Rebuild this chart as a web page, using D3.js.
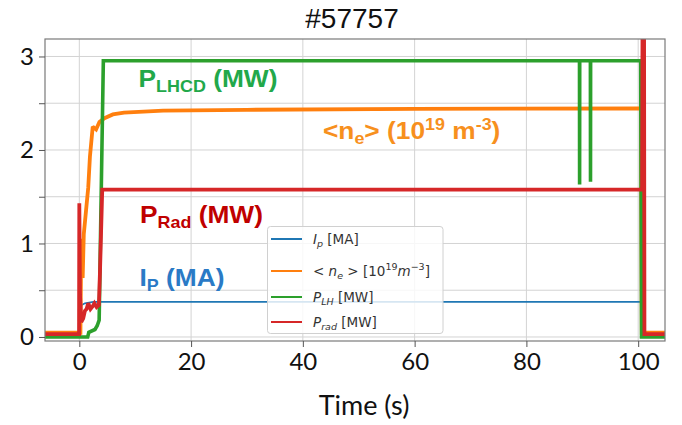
<!DOCTYPE html>
<html><head><meta charset="utf-8">
<script src="https://d3js.org/d3.v7.min.js"></script>
<style>
html,body{margin:0;padding:0;background:#fff;}
svg{display:block;}
</style></head>
<body>
<svg id="chart" width="682" height="425"></svg>
<script>
// ---- data ----
const title = "#57757";
const xTicks = [0, 20, 40, 60, 80, 100];
const yTicks = [0, 1, 2, 3];
const yMinor = [0, 0.5, 1, 1.5, 2, 2.5, 3];

const ipT = [-6.2, 0.15, 0.35, 1.0, 2.5, 100.55, 100.65, 105];
const ipV = [0, 0, 0.34, 0.36, 0.375, 0.375, 0, 0];

const neT = [-6.2, 0.2, 0.35, 0.6, 0.8, 1.2, 1.6, 1.9, 2.4, 3.0, 3.6, 4.5, 6, 8, 15, 30, 60, 100.5, 100.65, 105];
const neV = [0.045, 0.045, 1.05, 0.63, 1.1, 1.35, 1.6, 1.93, 2.25, 2.22, 2.3, 2.34, 2.38, 2.40, 2.42, 2.43, 2.44, 2.445, 0.045, 0.045];

const lhT = [-6.2, 1.5, 1.7, 2.8, 3.2, 3.55, 4.3, 89.5, 89.52, 89.54, 91.45, 91.47, 91.49, 100.45, 100.6, 105];
const lhV = [0, 0, 0.05, 0.08, 0.12, 0.18, 2.955, 2.955, 1.63, 2.955, 2.955, 1.66, 2.955, 2.955, 0, 0];

const rdT = [-6.2, -0.05, 0.0, 0.12, 0.35, 0.7, 1.0, 1.3, 1.6, 2.0, 2.4, 2.7, 3.1, 3.5, 3.7, 4.1, 100.7, 100.78, 101.05, 101.12, 105];
const rdV = [0.03, 0.03, 1.43, 0.45, 0.16, 0.2, 0.28, 0.3, 0.36, 0.3, 0.33, 0.36, 0.32, 0.34, 0.7, 1.575, 1.575, 3.4, 3.4, 0.03, 0.03];

const seriesNames = ["Ip", "ne", "PLH", "Prad"];
const seriesColors = ["#1f77b4", "#ff7f0e", "#2ca02c", "#d62728"];

// ---- layout ----
const svg = d3.select("#chart");
const L = 45, R = 665, T = 39, B = 341;
const x = d3.scaleLinear().domain([-6.14, 104.8]).range([L, R]);
const y = d3.scaleLinear().domain([-0.043, 3.187]).range([B, T]);

svg.append("rect").attr("width", 682).attr("height", 425).attr("fill", "#fff");

// title
svg.append("text").attr("x", 352).attr("y", 28).attr("text-anchor", "middle")
  .attr("font-family", "Liberation Sans, Arial, sans-serif").attr("font-size", 28)
  .attr("fill", "#111").text(title);

// grid
const grid = svg.append("g");
grid.selectAll("line.v").data(xTicks).join("line")
  .attr("x1", d => x(d)).attr("x2", d => x(d)).attr("y1", T).attr("y2", B)
  .attr("stroke", "#d3d3d3").attr("stroke-width", 1);
grid.selectAll("line.h").data(yMinor).join("line")
  .attr("y1", d => y(d)).attr("y2", d => y(d)).attr("x1", L).attr("x2", R)
  .attr("stroke", "#d3d3d3").attr("stroke-width", 1);

// clip
svg.append("clipPath").attr("id", "clip").append("rect")
  .attr("x", L).attr("y", T).attr("width", R - L).attr("height", B - T);

const line = d3.line().x(d => x(d[0])).y(d => y(d[1]));
const zip = (t, v) => t.map((d, i) => [d, v[i]]);
const series = [
  {data: zip(ipT, ipV), w: 1.8},
  {data: zip(neT, neV), w: 3.8},
  {data: zip(lhT, lhV), w: 3.6},
  {data: zip(rdT, rdV), w: 3.8}
];
const plot = svg.append("g").attr("clip-path", "url(#clip)");
series.forEach((s, i) => {
  plot.append("path").attr("d", line(s.data)).attr("fill", "none")
    .attr("stroke", seriesColors[i]).attr("stroke-width", s.w)
    .attr("stroke-linejoin", "miter").attr("stroke-miterlimit", 2);
});

// axes
const axG = svg.append("g");
axG.append("rect").attr("x", L).attr("y", T).attr("width", R - L).attr("height", B - T)
  .attr("fill", "none").attr("stroke", "#7a7a7a").attr("stroke-width", 1.2);
const xAxis = d3.axisBottom(x).tickValues(xTicks).tickSize(6).tickPadding(6).tickFormat(d3.format("d"));
const gx = svg.append("g").attr("transform", `translate(0,${B})`).call(xAxis);
gx.select(".domain").remove();
gx.selectAll(".tick line").attr("stroke", "#555");
gx.selectAll(".tick text").attr("font-family", "Lato, Open Sans, sans-serif").attr("font-size", 24).attr("fill", "#111");

const yAxisMinor = d3.axisLeft(y).tickValues(yMinor).tickSize(6).tickFormat("");
const gy2 = svg.append("g").attr("transform", `translate(${L},0)`).call(yAxisMinor);
gy2.select(".domain").remove();
gy2.selectAll(".tick line").attr("stroke", "#555");
const yAxis = d3.axisLeft(y).tickValues(yTicks).tickSize(0).tickPadding(11).tickFormat(d3.format("d"));
const gy = svg.append("g").attr("transform", `translate(${L},0)`).call(yAxis);
gy.select(".domain").remove();
gy.selectAll(".tick text").attr("font-family", "Lato, Open Sans, sans-serif").attr("font-size", 24).attr("fill", "#111");

svg.append("text").attr("x", 364).attr("y", 415).attr("text-anchor", "middle")
  .attr("font-family", "Lato, Open Sans, sans-serif").attr("font-size", 27).attr("fill", "#111")
  .text("Time (s)");

// legend
const lg = svg.append("g");
lg.append("rect").attr("x", 267.5).attr("y", 226.5).attr("width", 175.5).attr("height", 107)
  .attr("rx", 3).attr("fill", "#fff").attr("fill-opacity", 0.82).attr("stroke", "#d0d0d0");
const legY = [239, 271, 297, 322];
const legFont = "DejaVu Sans, sans-serif";
legY.forEach((yy, i) => {
  lg.append("line").attr("x1", 271).attr("x2", 302).attr("y1", yy).attr("y2", yy)
    .attr("stroke", seriesColors[i]).attr("stroke-width", 2);
});
function legText(i) {
  return lg.append("text").attr("x", 313).attr("y", legY[i] + 5)
    .attr("font-family", legFont).attr("font-size", 13.5).attr("fill", "#333");
}
{
  const t = legText(0);
  t.append("tspan").attr("font-style", "italic").text("I");
  t.append("tspan").attr("font-style", "italic").attr("font-size", 9.5).attr("dy", 3).text("p");
  t.append("tspan").attr("dy", -3).text(" [MA]");
}
{
  const t = legText(1);
  t.append("tspan").text("< ");
  t.append("tspan").attr("font-style", "italic").text("n");
  t.append("tspan").attr("font-style", "italic").attr("font-size", 9.5).attr("dy", 3).text("e");
  t.append("tspan").attr("dy", -3).text(" > [10");
  t.append("tspan").attr("font-size", 9.5).attr("dy", -6).text("19");
  t.append("tspan").attr("font-style", "italic").attr("dy", 6).text("m");
  t.append("tspan").attr("font-size", 9.5).attr("dy", -6).text("\u22123");
  t.append("tspan").attr("dy", 6).text("]");
}
{
  const t = legText(2);
  t.append("tspan").attr("font-style", "italic").text("P");
  t.append("tspan").attr("font-style", "italic").attr("font-size", 9.5).attr("dy", 3).text("LH");
  t.append("tspan").attr("dy", -3).text(" [MW]");
}
{
  const t = legText(3);
  t.append("tspan").attr("font-style", "italic").text("P");
  t.append("tspan").attr("font-style", "italic").attr("font-size", 9.5).attr("dy", 3).text("rad");
  t.append("tspan").attr("dy", -3).text(" [MW]");
}

// annotations (data coordinates)
const annFont = "Liberation Sans, Arial, sans-serif";
function ann(t, v, color) {
  const g = svg.append("g").attr("transform", `translate(${x(t)},${y(v)}) scale(1.12,1)`);
  return g.append("text").attr("x", 0).attr("y", 0).attr("font-family", annFont)
    .attr("font-weight", "bold").attr("font-size", 23.5).attr("fill", color);
}
{
  const t = ann(10.6, 2.67, "#22a84a");
  t.append("tspan").text("P");
  t.append("tspan").attr("font-size", 16).attr("dy", 5).text("LHCD");
  t.append("tspan").attr("dy", -5).text(" (MW)");
}
{
  const t = ann(43.6, 2.115, "#f7901e");
  t.append("tspan").text("<n");
  t.append("tspan").attr("font-size", 16).attr("dy", 5).text("e");
  t.append("tspan").attr("dy", -5).text("> (10");
  t.append("tspan").attr("font-size", 16).attr("dy", -9).text("19");
  t.append("tspan").attr("dy", 9).text(" m");
  t.append("tspan").attr("font-size", 16).attr("dy", -9).text("-3");
  t.append("tspan").attr("dy", 9).text(")");
}
{
  const t = ann(10.85, 1.216, "#c00000");
  t.append("tspan").text("P");
  t.append("tspan").attr("font-size", 16).attr("dy", 5).text("Rad");
  t.append("tspan").attr("dy", -5).text(" (MW)");
}
{
  const t = ann(10.75, 0.54, "#2a7ac6");
  t.append("tspan").text("I");
  t.append("tspan").attr("font-size", 16).attr("dy", 5).text("P");
  t.append("tspan").attr("dy", -5).text(" (MA)");
}
</script>
</body></html>
